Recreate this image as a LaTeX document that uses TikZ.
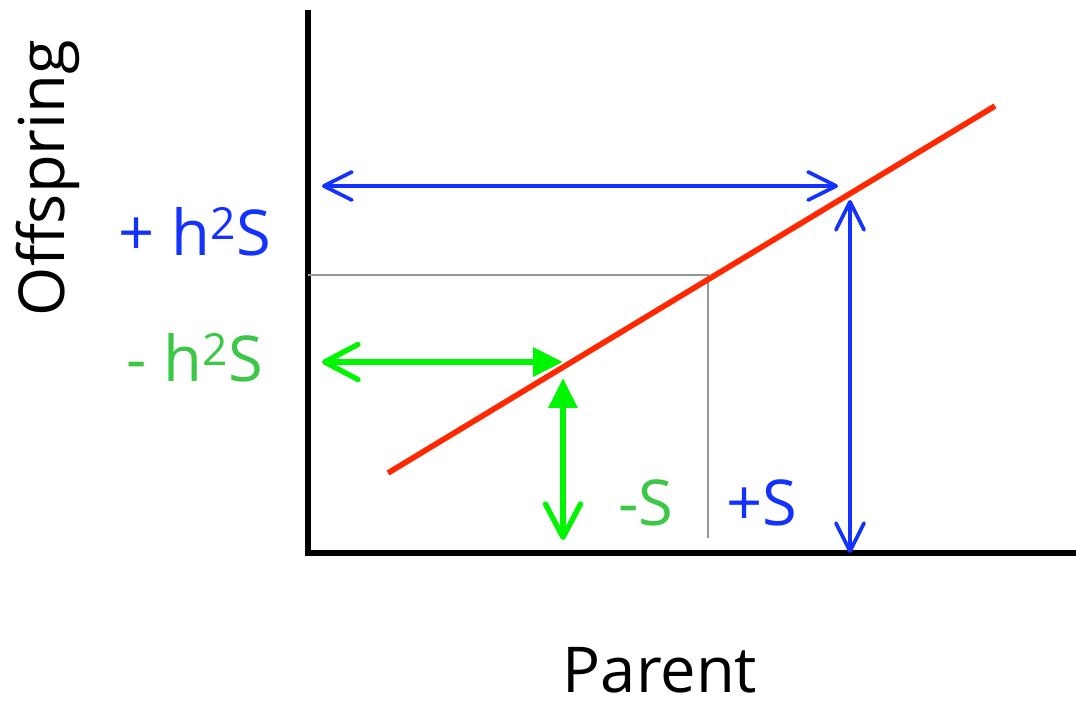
\documentclass[tikz,border=0pt]{standalone}
\usepackage{fontspec}
\setmainfont{Open Sans}
\usepackage{tikz}
\usetikzlibrary{arrows.meta, positioning}
\definecolor{myblue}{RGB}{20,50,255}
\definecolor{mygreen}{RGB}{0,245,0}
\definecolor{lblgreen}{RGB}{60,200,70}
\definecolor{myred}{RGB}{255,40,0}
\definecolor{mygray}{RGB}{150,150,150}
\tikzset{
  axis/.style={line width=3.2pt, color=black},
  guide/.style={line width=1.2pt, color=mygray},
  fitline/.style={line width=3.2pt, color=myred},
  bluearrow/.style={{Straight Barb[round, length=16pt, width=16pt]}-{Straight Barb[round, length=16pt, width=16pt]}, line width=2.1pt, color=myblue},
  greenarrow/.style={{Straight Barb[round, length=19pt, width=20pt]}-{Triangle[length=17pt, width=16pt]}, line width=3pt, color=mygreen},
  lab/.style={font=\fontsize{36}{42}\selectfont, inner sep=0pt}
}
\begin{document}
\begin{tikzpicture}[x=0.02cm, y=-0.02cm]
  \useasboundingbox (0,0) rectangle (1076,705);
  % Axes
  \coordinate (origin) at (308,553);
  \coordinate (ytop) at (308,10);
  \coordinate (xend) at (1076,553);
  \draw[axis] (ytop) -- (origin) -- (xend);
  \node[lab, rotate=90] (ylab) at (48,178) {Offspring};
  \node[lab] (xlab) at (660,670) {Parent};

  % Guide lines at the mean
  \coordinate (meany) at (308,275);
  \coordinate (mean) at (708,275);
  \coordinate (meanx) at (708,538);
  \draw[guide] (meany) -- (mean) -- (meanx);

  % Regression line
  \coordinate (rstart) at (388,473);
  \coordinate (rend) at (995,106);
  \draw[fitline] (rstart) -- (rend);

  % Upward selection
  \coordinate (bluey) at (322,186);
  \coordinate (bluept) at (838,186);
  \coordinate (bluetop) at (850,200);
  \coordinate (bluebot) at (850,553);
  \draw[bluearrow] (bluey) -- (bluept);
  \draw[bluearrow] (bluetop) -- (bluebot);
  \node[lab, text=myblue] (plush) at (195,232) {+ h\textsuperscript{2}S};
  \node[lab, text=myblue] (pluss) at (762,503) {+S};

  % Downward selection
  \coordinate (greeny) at (322,362);
  \coordinate (greenpt) at (563,362);
  \coordinate (greenbot) at (563,540);
  \coordinate (greentop) at (563,378);
  \draw[greenarrow] (greeny) -- (greenpt);
  \draw[greenarrow] (greenbot) -- (greentop);
  \node[lab, text=lblgreen] (minush) at (195,358) {- h\textsuperscript{2}S};
  \node[lab, text=lblgreen] (minuss) at (646,503) {-S};
\end{tikzpicture}
\end{document}
